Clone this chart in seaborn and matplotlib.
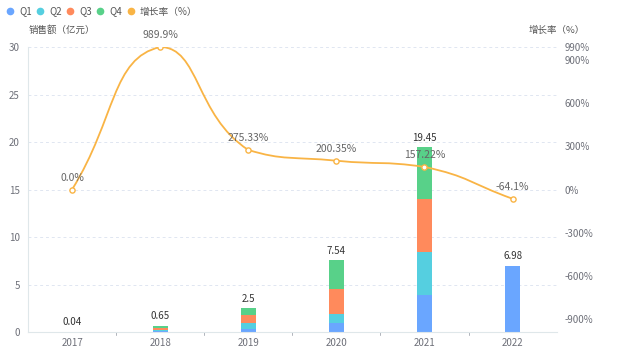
import numpy as np
import pandas as pd
import seaborn as sns
import matplotlib.pyplot as plt
from matplotlib.path import Path
from matplotlib.patches import PathPatch
from matplotlib.lines import Line2D

years = ['2017', '2018', '2019', '2020', '2021', '2022']
q1 = [0.0, 0.15, 0.35, 0.90, 3.85, 6.98]
q2 = [0.0, 0.10, 0.65, 1.00, 4.57, 0.0]
q3 = [0.0, 0.20, 0.75, 2.60, 5.60, 0.0]
q4 = [0.04, 0.20, 0.75, 3.04, 5.43, 0.0]
totals = [0.04, 0.65, 2.5, 7.54, 19.45, 6.98]
growth = [0.0, 989.9, 275.33, 200.35, 157.22, -64.1]
growth_labels = ['0.0%', '989.9%', '275.33%', '200.35%', '157.22%', '-64.1%']
left_ticks = [0, 5, 10, 15, 20, 25, 30]
right_ticks = [-900, -600, -300, 0, 300, 600, 900, 990]

quarters = ['Q1', 'Q2', 'Q3', 'Q4']
colors = {'Q1': '#6aa6ff', 'Q2': '#55cfe0', 'Q3': '#ff8a5c', 'Q4': '#58d189'}
line_color = '#f9b445'

sns.set_style('white')
plt.rcParams['font.family'] = ['Noto Sans CJK SC', 'DejaVu Sans']

df = pd.DataFrame({'year': years, 'Q1': q1, 'Q2': q2, 'Q3': q3, 'Q4': q4})
cum = df[quarters].cumsum(axis=1)

fig = plt.figure(figsize=(6.4, 3.51), dpi=100)
ax = fig.add_axes([0.04375, 0.054, 0.826, 0.812])

# stacked bars: draw cumulative heights from the top layer down
for q in reversed(quarters):
    sns.barplot(x=df['year'], y=cum[q], order=years, color=colors[q],
                width=0.17, saturation=1, ax=ax, edgecolor='none')

ax.set_xlim(-0.5, 5.5)
ax.set_ylim(0, 30)
ax.set_yticks(left_ticks)
ax.set_xlabel('')
ax.set_ylabel('')
ax.tick_params(axis='y', length=0, labelsize=7, labelcolor='#6e7079', pad=6)
ax.tick_params(axis='x', length=0, labelsize=7, labelcolor='#6e7079', pad=4)
for v in left_ticks[1:]:
    ax.axhline(v, color='#e0e6f1', lw=0.7, ls=(0, (3, 3)), zorder=0)
for s in ['top', 'right']:
    ax.spines[s].set_visible(False)
ax.spines['left'].set_color('#dfe7ea')
ax.spines['bottom'].set_color('#dfe7ea')
ax.spines['left'].set_linewidth(0.8)
ax.spines['bottom'].set_linewidth(0.8)
for b in np.arange(0.5, 5.5, 1.0):
    ax.plot([b, b], [0, -0.35], color='#b0b4bb', lw=0.7, clip_on=False)

for i, t in enumerate(totals):
    ax.text(i, t + 0.5, f'{t:g}', ha='center', va='bottom', fontsize=7, color='#333333')

# growth rate on right axis
ax2 = ax.twinx()
ax2.set_ylim(-990, 990)
ax2.set_yticks(right_ticks)
ax2.set_yticklabels([f'{v}%' for v in right_ticks])
ax2.tick_params(axis='y', length=0, labelsize=7, labelcolor='#6e7079', pad=6)
for s in ['top', 'right', 'left', 'bottom']:
    ax2.spines[s].set_visible(False)

# smooth curve through the points (control points kept between neighbours)
xs = np.arange(len(years), dtype=float)
pts = ax2.transData.transform(np.column_stack([xs, growth]))
smooth = 0.5
cps = []
for i in range(len(pts)):
    p = pts[i]
    prev_p = pts[i - 1] if i > 0 else p
    next_p = pts[i + 1] if i < len(pts) - 1 else p
    v = (next_p - prev_p) * smooth
    d0 = np.hypot(*(p - prev_p))
    d1 = np.hypot(*(p - next_p))
    tot = d0 + d1
    if tot > 0:
        d0, d1 = d0 / tot, d1 / tot
    c0 = p - v * d0
    c1 = p + v * d1
    for k in range(2):
        c0[k] = np.clip(c0[k], min(p[k], prev_p[k]), max(p[k], prev_p[k]))
        c1[k] = np.clip(c1[k], min(p[k], next_p[k]), max(p[k], next_p[k]))
    cps.append((c0, c1))
verts = [pts[0]]
codes = [Path.MOVETO]
for i in range(len(pts) - 1):
    verts += [cps[i][1], cps[i + 1][0], pts[i + 1]]
    codes += [Path.CURVE4] * 3
verts = ax2.transData.inverted().transform(np.array(verts))
ax2.add_patch(PathPatch(Path(verts, codes), fill=False, edgecolor=line_color, lw=1.3, zorder=3))

sns.scatterplot(x=xs, y=growth, ax=ax2, s=14, color='white', edgecolor=line_color,
                linewidth=1.0, zorder=4)
for i, g in enumerate(growth):
    ax2.annotate(growth_labels[i], (xs[i], g), xytext=(0, 5), textcoords='offset points',
                 ha='center', va='bottom', fontsize=7.5, color='#666666')

fig.text(0.044, 0.9, '销售额（亿元）', fontsize=6.8, color='#555555', ha='left', va='bottom')
fig.text(0.87, 0.9, '增长率（%）', fontsize=6.8, color='#555555', ha='center', va='bottom')

handles = [Line2D([], [], marker='o', ls='', markersize=4.5, color=colors[q]) for q in quarters]
handles.append(Line2D([], [], marker='o', ls='', markersize=4.5, color=line_color))
fig.legend(handles, quarters + ['增长率（%）'], loc='upper left', bbox_to_anchor=(0.0, 0.998),
           ncol=5, frameon=False, fontsize=7, handlelength=0.8, handletextpad=0.55,
           columnspacing=0.45, borderaxespad=0.2, labelcolor='#555555')

fig.savefig('out.png', dpi=100)
